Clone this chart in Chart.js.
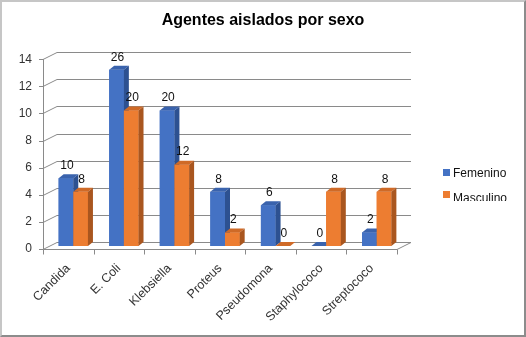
<!DOCTYPE html>
<html><head><meta charset="utf-8">
<script src="https://cdn.jsdelivr.net/npm/chart.js@4"></script>
<style>
html,body{margin:0;padding:0;background:#fff;overflow:hidden}
#wrap{position:relative;width:526px;height:337px}
#frame{position:absolute;left:0;top:0;width:526px;height:337px;box-sizing:border-box;border-left:2px solid #c6c6c6;border-top:2px solid #c6c6c6;border-right:2px solid #8c8c8c;border-bottom:2px solid #8c8c8c;pointer-events:none}
</style></head>
<body><div id="wrap"><canvas id="c" width="526" height="337"></canvas><div id="frame"></div></div>
<script>
const categories = ['Candida','E. Coli','Klebsiella','Proteus','Pseudomona','Staphylococo','Streptococo'];
const femenino = [5,13,10,4,3,0,1];
const masculino = [4,10,6,1,0,4,4];
const femeninoLabels = [10,26,20,8,6,0,2];
const masculinoLabels = [8,20,12,2,0,8,8];
const seriesNames = ['Femenino','Masculino'];
const yMin = 0, yMax = 14, yStep = 2;

const FRONT = ['#4472C4','#ED7D31'];
const TOPC = ['#3a63ad','#cf6a27'];
const SIDE = ['#2d5191','#a9561f'];
const WALL_DX = 14, WALL_DY = 7;
const BAR_DX = 5, BAR_DY = 4;
const SHIFT_X = 5, SHIFT_Y = -3;
const allLabels = [femeninoLabels, masculinoLabels];

const threeD = {
  id: 'threeD',
  beforeDatasetsDraw(chart) {
    const {ctx, chartArea: a, scales: {x, y}} = chart;
    ctx.save();
    ctx.strokeStyle = '#8a8a8a';
    ctx.lineWidth = 1;
    ctx.beginPath();
    y.ticks.forEach(t => {
      const py = Math.round(y.getPixelForValue(t.value)) + 0.5;
      ctx.moveTo(a.left, py);
      ctx.lineTo(a.left + WALL_DX, py - WALL_DY);
      ctx.lineTo(a.right + WALL_DX, py - WALL_DY);
      ctx.moveTo(a.left - 4, py);
      ctx.lineTo(a.left, py);
    });
    const py0 = Math.round(y.getPixelForValue(0)) + 0.5;
    const lx = Math.round(a.left) + 0.5;
    ctx.moveTo(lx, y.getPixelForValue(yMax));
    ctx.lineTo(lx, py0);
    ctx.lineTo(a.right, py0);
    ctx.lineTo(a.right + WALL_DX, py0 - WALL_DY);
    const n = categories.length, w = (a.right - a.left) / n;
    for (let i = 0; i <= n; i++) {
      const bx = Math.round(a.left + i * w) + 0.5;
      ctx.moveTo(bx, py0);
      ctx.lineTo(bx, py0 + 5);
    }
    ctx.stroke();
    ctx.restore();
    ctx.save();
    ctx.translate(SHIFT_X, SHIFT_Y);
  },
  afterDatasetsDraw(chart) {
    const ctx = chart.ctx;
    const metas = chart.data.datasets.map((d, i) => chart.getDatasetMeta(i));
    for (let i = 0; i < categories.length; i++) {
      metas.forEach((meta, d) => {
        const el = meta.data[i];
        const p = el.getProps(['x', 'y', 'base', 'width'], true);
        const x0 = p.x - p.width / 2, x1 = p.x + p.width / 2;
        const top = Math.min(p.y, p.base), base = Math.max(p.y, p.base);
        ctx.fillStyle = FRONT[d];
        ctx.fillRect(x0, top, x1 - x0, base - top);
        ctx.fillStyle = TOPC[d];
        ctx.beginPath();
        ctx.moveTo(x0, top); ctx.lineTo(x0 + BAR_DX, top - BAR_DY);
        ctx.lineTo(x1 + BAR_DX, top - BAR_DY); ctx.lineTo(x1, top); ctx.closePath();
        ctx.fill();
        ctx.fillStyle = SIDE[d];
        ctx.beginPath();
        ctx.moveTo(x1, top); ctx.lineTo(x1 + BAR_DX, top - BAR_DY);
        ctx.lineTo(x1 + BAR_DX, base - BAR_DY); ctx.lineTo(x1, base); ctx.closePath();
        ctx.fill();
      });
    }
    ctx.fillStyle = '#111';
    ctx.font = '12px "Liberation Sans", Arial, sans-serif';
    ctx.textAlign = 'center';
    ctx.textBaseline = 'middle';
    metas.forEach((meta, d) => {
      meta.data.forEach((el, i) => {
        const p = el.getProps(['x', 'y'], true);
        ctx.fillText(String(allLabels[d][i]), p.x + 1, p.y - 12.5);
      });
    });
    ctx.restore();
  },
  afterDraw(chart) {
    const ctx = chart.ctx;
    ctx.save();
    ctx.font = '12px "Liberation Sans", Arial, sans-serif';
    ctx.textAlign = 'left';
    ctx.textBaseline = 'alphabetic';
    const items = [{sq: 169, base: 177}, {sq: 191, base: 202}];
    chart.data.datasets.forEach((ds, d) => {
      ctx.save();
      ctx.beginPath();
      ctx.rect(430, 150, 90, 51);
      ctx.clip();
      ctx.fillStyle = FRONT[d];
      ctx.fillRect(443, items[d].sq, 7, 7);
      ctx.fillStyle = '#111';
      ctx.fillText(ds.label, 453, items[d].base);
      ctx.restore();
    });
    ctx.restore();
  }
};

new Chart(document.getElementById('c'), {
  type: 'bar',
  data: {
    labels: categories,
    datasets: [
      {label: seriesNames[0], data: femenino, backgroundColor: FRONT[0], borderWidth: 0},
      {label: seriesNames[1], data: masculino, backgroundColor: FRONT[1], borderWidth: 0}
    ]
  },
  options: {
    responsive: false,
    animation: false,
    devicePixelRatio: 1,
    events: [],
    categoryPercentage: 0.58,
    barPercentage: 1,
    layout: {padding: 0},
    plugins: {
      legend: {display: false},
      tooltip: {enabled: false},
      title: {
        display: true,
        text: 'Agentes aislados por sexo',
        color: '#000',
        font: {family: '"Liberation Sans", Arial, sans-serif', size: 16, weight: 'bold'},
        padding: {top: 11, bottom: 29}
      }
    },
    scales: {
      x: {
        grid: {display: false},
        border: {display: false},
        ticks: {
          autoSkip: false, minRotation: 45, maxRotation: 45, padding: 4,
          color: '#333', font: {family: '"Liberation Sans", Arial, sans-serif', size: 12.5}
        },
        afterFit(s) { s.height = 88; }
      },
      y: {
        min: yMin, max: yMax,
        grid: {display: false},
        border: {display: false},
        ticks: {
          stepSize: yStep, padding: 3,
          color: '#333', font: {family: '"Liberation Sans", Arial, sans-serif', size: 12}
        },
        afterFit(s) { s.width = 43; }
      },
      pad: {
        type: 'linear', position: 'right', display: true,
        grid: {display: false}, border: {display: false}, ticks: {display: false},
        afterFit(s) { s.width = 129; }
      }
    }
  },
  plugins: [threeD]
});
</script>
</body></html>
